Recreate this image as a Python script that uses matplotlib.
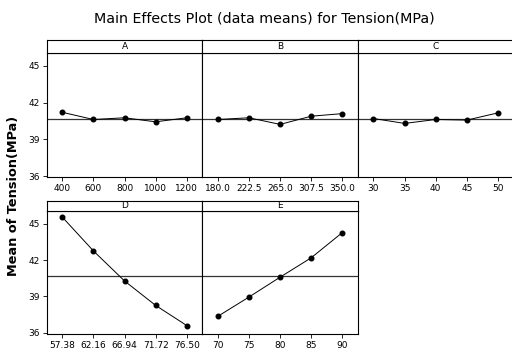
import matplotlib
matplotlib.use("Agg")
import matplotlib.pyplot as plt

# factor levels and mean responses
a_levels = ["400", "600", "800", "1000", "1200"]
a_means = [41.21, 40.62, 40.76, 40.43, 40.76]
b_levels = ["180.0", "222.5", "265.0", "307.5", "350.0"]
b_means = [40.62, 40.76, 40.22, 40.89, 41.10]
c_levels = ["30", "35", "40", "45", "50"]
c_means = [40.70, 40.30, 40.62, 40.57, 41.16]
d_levels = ["57.38", "62.16", "66.94", "71.72", "76.50"]
d_means = [45.55, 42.76, 40.28, 38.26, 36.60]
e_levels = ["70", "75", "80", "85", "90"]
e_means = [37.36, 38.95, 40.59, 42.19, 44.27]
grand_mean = 40.70
yticks = [36, 39, 42, 45]

W, H = 512, 358
fig = plt.figure(figsize=(W / 100, H / 100), dpi=100)
fig.patch.set_facecolor("white")

def px(x0, y0, x1, y1):
    # pixel box (top-left origin) -> figure fraction
    return [x0 / W, 1 - y1 / H, (x1 - x0) / W, (y1 - y0) / H]

def panel(x0, x1, top, strip_h, bottom, name, levels, means, left_col):
    ax = fig.add_axes(px(x0, top + strip_h, x1, bottom))
    pos = range(len(levels))
    ax.axhline(grand_mean, color="#333333", lw=0.9, zorder=1)
    ax.plot(pos, means, color="black", lw=0.7, marker="o", ms=3.3, zorder=2)
    ax.set_xlim(-0.5, len(levels) - 0.5)
    ax.set_ylim(35.9, 46.05)
    ax.set_xticks(list(pos))
    ax.set_xticklabels(levels, fontsize=6.5)
    ax.set_yticks(yticks)
    if left_col:
        ax.set_yticklabels([str(t) for t in yticks], fontsize=6.5)
    else:
        ax.tick_params(axis="y", left=False, labelleft=False)
    ax.tick_params(length=3, width=0.6, pad=2)
    for s in ax.spines.values():
        s.set_linewidth(0.8)
    st = fig.add_axes(px(x0, top, x1, top + strip_h))
    st.set_xticks([])
    st.set_yticks([])
    for s in st.spines.values():
        s.set_linewidth(0.8)
    st.text(0.5, 0.5, name, ha="center", va="center", fontsize=6.5,
            transform=st.transAxes)
    return ax

pw = 155.6
x_a = 46.7
panel(x_a, x_a + pw, 40, 13, 177.3, "A", a_levels, a_means, True)
panel(x_a + pw, x_a + 2 * pw, 40, 13, 177.3, "B", b_levels, b_means, False)
panel(x_a + 2 * pw, x_a + 3 * pw, 40, 13, 177.3, "C", c_levels, c_means, False)
panel(x_a, x_a + pw, 200.5, 10.5, 334, "D", d_levels, d_means, True)
panel(x_a + pw, x_a + 2 * pw, 200.5, 10.5, 334, "E", e_levels, e_means, False)

fig.text(264 / W, 1 - 18 / H, "Main Effects Plot (data means) for Tension(MPa)",
         ha="center", va="center", fontsize=10.3)
fig.text(14 / W, 1 - 196 / H, "Mean of Tension(MPa)", rotation=90,
         ha="center", va="center", fontsize=9.3, fontweight="bold")

fig.savefig("out.png", dpi=100)
